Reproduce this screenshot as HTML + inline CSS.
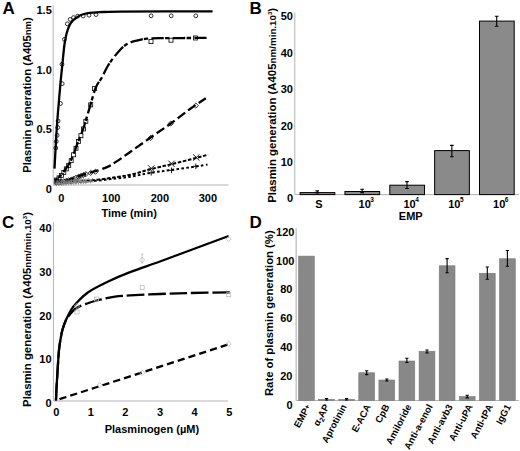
<!DOCTYPE html>
<html><head><meta charset="utf-8"><style>
html,body{margin:0;padding:0;background:#fff;width:520px;height:451px;overflow:hidden}
svg{display:block}
text{font-family:"Liberation Sans",sans-serif;font-weight:bold;fill:#000}
</style></head><body>
<svg width="520" height="451" viewBox="0 0 520 451">
<text x="2.50" y="13.90" text-anchor="start" font-size="17">A</text>
<line x1="53.20" y1="5.30" x2="53.20" y2="185.00" stroke="#b4b4b4" stroke-width="1"/>
<line x1="53.20" y1="185.00" x2="228.50" y2="185.00" stroke="#b4b4b4" stroke-width="1"/>
<text x="51.80" y="14.20" text-anchor="end" font-size="11">1.5</text>
<text x="51.80" y="73.80" text-anchor="end" font-size="11">1.0</text>
<text x="51.80" y="133.40" text-anchor="end" font-size="11">0.5</text>
<text x="51.80" y="193.00" text-anchor="end" font-size="11">0</text>
<text x="61.40" y="201.90" text-anchor="middle" font-size="11">0</text>
<text x="111.30" y="201.90" text-anchor="middle" font-size="11">100</text>
<text x="159.90" y="201.90" text-anchor="middle" font-size="11">200</text>
<text x="207.90" y="201.90" text-anchor="middle" font-size="11">300</text>
<text x="129.10" y="217.30" text-anchor="middle" font-size="11">Time (min)</text>
<text transform="translate(31.00,95.00) rotate(-90)" text-anchor="middle" font-size="11.25">Plasmin generation (A405<tspan font-size="9.5">nm</tspan>)</text>
<path d="M54.50,168.60 C54.67,165.50 55.08,157.27 55.50,150.00 C55.92,142.73 56.48,132.50 57.00,125.00 C57.52,117.50 58.05,111.67 58.60,105.00 C59.15,98.33 59.68,91.67 60.30,85.00 C60.92,78.33 61.62,71.67 62.30,65.00 C62.98,58.33 63.75,50.00 64.40,45.00 C65.05,40.00 65.60,37.67 66.20,35.00 C66.80,32.33 67.37,30.75 68.00,29.00 C68.63,27.25 69.25,25.83 70.00,24.50 C70.75,23.17 71.65,21.97 72.50,21.00 C73.35,20.03 73.78,19.65 75.10,18.70 C76.42,17.75 78.25,16.22 80.40,15.30 C82.55,14.38 84.73,13.72 88.00,13.20 C91.27,12.68 94.67,12.47 100.00,12.20 C105.33,11.93 101.23,11.75 120.00,11.60 C138.77,11.45 197.17,11.35 212.60,11.30" fill="none" stroke="#000" stroke-width="2.3" stroke-linecap="butt" stroke-linejoin="round"/>
<path d="M55.00,180.50 C55.58,180.00 57.27,178.68 58.50,177.50 C59.73,176.32 61.15,174.90 62.40,173.40 C63.65,171.90 64.75,170.32 66.00,168.50 C67.25,166.68 68.57,165.08 69.90,162.50 C71.23,159.92 72.75,156.15 74.00,153.00 C75.25,149.85 75.85,147.68 77.40,143.60 C78.95,139.52 81.28,134.42 83.30,128.50 C85.32,122.58 87.43,114.90 89.50,108.10 C91.57,101.30 93.73,92.63 95.70,87.70 C97.67,82.77 99.58,81.58 101.30,78.50 C103.02,75.42 104.65,71.72 106.00,69.20 C107.35,66.68 108.07,65.42 109.40,63.40 C110.73,61.38 112.27,59.30 114.00,57.10 C115.73,54.90 117.87,52.22 119.80,50.20 C121.73,48.18 123.58,46.38 125.60,45.00 C127.62,43.62 129.32,42.80 131.90,41.90 C134.48,41.00 138.60,40.13 141.10,39.60 C143.60,39.07 143.75,38.93 146.90,38.70 C150.05,38.47 149.98,38.33 160.00,38.20 C170.02,38.07 199.17,37.95 207.00,37.90" fill="none" stroke="#000" stroke-width="2.3" stroke-dasharray="12.3 1.3 4.3 3.4" stroke-dashoffset="9.37" stroke-linecap="butt" stroke-linejoin="round"/>
<path d="M55.00,182.50 C56.33,182.25 60.23,181.58 63.00,181.00 C65.77,180.42 68.63,179.93 71.60,179.00 C74.57,178.07 78.07,176.40 80.80,175.40 C83.53,174.40 85.55,173.70 88.00,173.00 C90.45,172.30 92.25,172.22 95.50,171.20 C98.75,170.18 104.03,168.50 107.50,166.90 C110.97,165.30 112.76,163.92 116.30,161.60 C119.84,159.28 123.03,157.02 128.75,153.00 C134.47,148.98 143.59,142.42 150.60,137.50 C157.61,132.58 164.23,128.25 170.80,123.50 C177.37,118.75 184.17,113.20 190.00,109.00 C195.83,104.80 203.17,100.08 205.80,98.30" fill="none" stroke="#000" stroke-width="2.3" stroke-dasharray="9.2 3.8" stroke-dashoffset="2.70" stroke-linecap="butt" stroke-linejoin="round"/>
<path d="M55.00,183.30 C58.33,183.00 68.33,182.05 75.00,181.50 C81.67,180.95 88.33,180.70 95.00,180.00 C101.67,179.30 108.75,178.25 115.00,177.30 C121.25,176.35 126.67,175.63 132.50,174.30 C138.33,172.97 143.58,170.97 150.00,169.30 C156.42,167.63 163.33,166.18 171.00,164.30 C178.67,162.42 189.82,159.62 196.00,158.00 C202.18,156.38 206.08,155.17 208.10,154.60" fill="none" stroke="#000" stroke-width="2.0" stroke-dasharray="3.6 1.6" stroke-dashoffset="0.00" stroke-linecap="butt" stroke-linejoin="round"/>
<path d="M55.00,184.00 C58.33,183.70 68.33,182.73 75.00,182.20 C81.67,181.67 88.33,181.40 95.00,180.80 C101.67,180.20 108.75,179.33 115.00,178.60 C121.25,177.87 126.67,177.35 132.50,176.40 C138.33,175.45 143.58,173.97 150.00,172.90 C156.42,171.83 163.33,171.07 171.00,170.00 C178.67,168.93 189.92,167.40 196.00,166.50 C202.08,165.60 205.58,164.92 207.50,164.60" fill="none" stroke="#000" stroke-width="2.0" stroke-dasharray="2.6 2.3" stroke-dashoffset="0.00" stroke-linecap="butt" stroke-linejoin="round"/>
<circle cx="151.10" cy="15.80" r="1.90" fill="none" stroke="#000" stroke-width="0.8"/>
<circle cx="171.20" cy="15.80" r="1.90" fill="none" stroke="#000" stroke-width="0.8"/>
<circle cx="195.80" cy="15.80" r="1.90" fill="none" stroke="#000" stroke-width="0.8"/>
<circle cx="96.00" cy="14.60" r="1.90" fill="none" stroke="#000" stroke-width="0.8"/>
<circle cx="89.00" cy="15.20" r="1.90" fill="none" stroke="#000" stroke-width="0.8"/>
<circle cx="83.20" cy="16.00" r="1.90" fill="none" stroke="#000" stroke-width="0.8"/>
<circle cx="77.60" cy="16.20" r="1.90" fill="none" stroke="#000" stroke-width="0.8"/>
<circle cx="73.50" cy="17.60" r="1.90" fill="none" stroke="#000" stroke-width="0.8"/>
<circle cx="70.20" cy="19.40" r="1.90" fill="none" stroke="#000" stroke-width="0.8"/>
<circle cx="67.30" cy="23.80" r="1.90" fill="none" stroke="#000" stroke-width="0.8"/>
<circle cx="64.40" cy="39.40" r="1.90" fill="none" stroke="#000" stroke-width="0.8"/>
<circle cx="62.00" cy="64.30" r="1.90" fill="none" stroke="#000" stroke-width="0.8"/>
<circle cx="62.20" cy="83.70" r="1.90" fill="none" stroke="#000" stroke-width="0.8"/>
<circle cx="60.50" cy="103.50" r="1.90" fill="none" stroke="#000" stroke-width="0.8"/>
<circle cx="58.10" cy="121.00" r="1.90" fill="none" stroke="#000" stroke-width="0.8"/>
<circle cx="57.70" cy="127.50" r="1.90" fill="none" stroke="#000" stroke-width="0.8"/>
<circle cx="57.10" cy="135.30" r="1.90" fill="none" stroke="#000" stroke-width="0.8"/>
<circle cx="56.30" cy="141.50" r="1.90" fill="none" stroke="#000" stroke-width="0.8"/>
<circle cx="55.80" cy="148.00" r="1.90" fill="none" stroke="#000" stroke-width="0.8"/>
<rect x="149.00" y="39.60" width="4.00" height="4.00" fill="none" stroke="#000" stroke-width="0.8"/>
<rect x="169.00" y="38.20" width="4.00" height="4.00" fill="none" stroke="#000" stroke-width="0.8"/>
<rect x="193.40" y="36.00" width="4.00" height="4.00" fill="none" stroke="#000" stroke-width="0.8"/>
<rect x="92.40" y="86.60" width="4.00" height="4.00" fill="none" stroke="#000" stroke-width="0.8"/>
<rect x="54.50" y="178.06" width="4.00" height="4.00" fill="none" stroke="#000" stroke-width="0.8"/>
<rect x="57.00" y="175.83" width="4.00" height="4.00" fill="none" stroke="#000" stroke-width="0.8"/>
<rect x="59.40" y="173.35" width="4.00" height="4.00" fill="none" stroke="#000" stroke-width="0.8"/>
<rect x="61.80" y="170.40" width="4.00" height="4.00" fill="none" stroke="#000" stroke-width="0.8"/>
<rect x="64.30" y="166.87" width="4.00" height="4.00" fill="none" stroke="#000" stroke-width="0.8"/>
<rect x="66.70" y="163.39" width="4.00" height="4.00" fill="none" stroke="#000" stroke-width="0.8"/>
<rect x="69.20" y="158.61" width="4.00" height="4.00" fill="none" stroke="#000" stroke-width="0.8"/>
<rect x="71.60" y="152.76" width="4.00" height="4.00" fill="none" stroke="#000" stroke-width="0.8"/>
<rect x="74.00" y="146.29" width="4.00" height="4.00" fill="none" stroke="#000" stroke-width="0.8"/>
<rect x="76.50" y="139.56" width="4.00" height="4.00" fill="none" stroke="#000" stroke-width="0.8"/>
<rect x="78.90" y="133.68" width="4.00" height="4.00" fill="none" stroke="#000" stroke-width="0.8"/>
<rect x="81.40" y="126.94" width="4.00" height="4.00" fill="none" stroke="#000" stroke-width="0.8"/>
<rect x="83.80" y="119.31" width="4.00" height="4.00" fill="none" stroke="#000" stroke-width="0.8"/>
<rect x="88.70" y="102.86" width="4.00" height="4.00" fill="none" stroke="#000" stroke-width="0.8"/>
<path d="M150.60,135.40L153.20,138.00L150.60,140.60L148.00,138.00Z" fill="none" stroke="#000" stroke-width="0.8"/>
<path d="M170.80,120.90L173.40,123.50L170.80,126.10L168.20,123.50Z" fill="none" stroke="#000" stroke-width="0.8"/>
<path d="M195.80,103.00L198.40,105.60L195.80,108.20L193.20,105.60Z" fill="none" stroke="#000" stroke-width="0.8"/>
<path d="M56.50,180.13L59.10,182.73L56.50,185.33L53.90,182.73Z" fill="none" stroke="#000" stroke-width="0.8"/>
<path d="M59.00,179.68L61.60,182.28L59.00,184.88L56.40,182.28Z" fill="none" stroke="#000" stroke-width="0.8"/>
<path d="M61.40,179.22L64.00,181.82L61.40,184.42L58.80,181.82Z" fill="none" stroke="#000" stroke-width="0.8"/>
<path d="M63.80,178.73L66.40,181.33L63.80,183.93L61.20,181.33Z" fill="none" stroke="#000" stroke-width="0.8"/>
<path d="M66.30,178.23L68.90,180.83L66.30,183.43L63.70,180.83Z" fill="none" stroke="#000" stroke-width="0.8"/>
<path d="M68.70,177.70L71.30,180.30L68.70,182.90L66.10,180.30Z" fill="none" stroke="#000" stroke-width="0.8"/>
<path d="M71.20,177.04L73.80,179.64L71.20,182.24L68.60,179.64Z" fill="none" stroke="#000" stroke-width="0.8"/>
<path d="M73.60,176.19L76.20,178.79L73.60,181.39L71.00,178.79Z" fill="none" stroke="#000" stroke-width="0.8"/>
<path d="M76.00,175.24L78.60,177.84L76.00,180.44L73.40,177.84Z" fill="none" stroke="#000" stroke-width="0.8"/>
<path d="M78.50,174.19L81.10,176.79L78.50,179.39L75.90,176.79Z" fill="none" stroke="#000" stroke-width="0.8"/>
<path d="M80.90,173.27L83.50,175.87L80.90,178.47L78.30,175.87Z" fill="none" stroke="#000" stroke-width="0.8"/>
<path d="M83.40,172.37L86.00,174.97L83.40,177.57L80.80,174.97Z" fill="none" stroke="#000" stroke-width="0.8"/>
<path d="M85.80,171.56L88.40,174.16L85.80,176.76L83.20,174.16Z" fill="none" stroke="#000" stroke-width="0.8"/>
<path d="M90.70,170.27L93.30,172.87L90.70,175.47L88.10,172.87Z" fill="none" stroke="#000" stroke-width="0.8"/>
<path d="M95.50,169.10L98.10,171.70L95.50,174.30L92.90,171.70Z" fill="none" stroke="#000" stroke-width="0.8"/>
<path d="M148.00,165.30L154.40,171.70M148.00,171.70L154.40,165.30" stroke="#000" stroke-width="0.9"/>
<path d="M168.30,160.60L174.70,167.00M168.30,167.00L174.70,160.60" stroke="#000" stroke-width="0.9"/>
<path d="M193.10,154.30L199.50,160.70M193.10,160.70L199.50,154.30" stroke="#000" stroke-width="0.9"/>
<path d="M54.10,180.77L58.90,185.57M54.10,185.57L58.90,180.77" stroke="#777" stroke-width="0.8"/>
<path d="M56.60,180.54L61.40,185.34M56.60,185.34L61.40,180.54" stroke="#777" stroke-width="0.8"/>
<path d="M59.00,180.31L63.80,185.11M59.00,185.11L63.80,180.31" stroke="#777" stroke-width="0.8"/>
<path d="M61.40,180.09L66.20,184.89M61.40,184.89L66.20,180.09" stroke="#777" stroke-width="0.8"/>
<path d="M63.90,179.86L68.70,184.66M63.90,184.66L68.70,179.86" stroke="#777" stroke-width="0.8"/>
<path d="M66.30,179.65L71.10,184.45M66.30,184.45L71.10,179.65" stroke="#777" stroke-width="0.8"/>
<path d="M68.80,179.43L73.60,184.23M68.80,184.23L73.60,179.43" stroke="#777" stroke-width="0.8"/>
<path d="M71.20,179.22L76.00,184.02M71.20,184.02L76.00,179.22" stroke="#777" stroke-width="0.8"/>
<path d="M73.60,179.02L78.40,183.82M73.60,183.82L78.40,179.02" stroke="#777" stroke-width="0.8"/>
<path d="M76.10,178.84L80.90,183.64M76.10,183.64L80.90,178.84" stroke="#777" stroke-width="0.8"/>
<path d="M78.50,178.67L83.30,183.47M78.50,183.47L83.30,178.67" stroke="#777" stroke-width="0.8"/>
<path d="M81.00,178.51L85.80,183.31M81.00,183.31L85.80,178.51" stroke="#777" stroke-width="0.8"/>
<path d="M83.40,178.35L88.20,183.15M83.40,183.15L88.20,178.35" stroke="#777" stroke-width="0.8"/>
<path d="M88.30,177.99L93.10,182.79M88.30,182.79L93.10,177.99" stroke="#777" stroke-width="0.8"/>
<path d="M148.40,172.80L154.00,172.80M151.20,170.00L151.20,175.60" stroke="#000" stroke-width="0.9"/>
<path d="M168.70,170.30L174.30,170.30M171.50,167.50L171.50,173.10" stroke="#000" stroke-width="0.9"/>
<path d="M193.00,166.30L198.60,166.30M195.80,163.50L195.80,169.10" stroke="#000" stroke-width="0.9"/>
<path d="M54.10,183.87L58.90,183.87M56.50,181.47L56.50,186.27" stroke="#888" stroke-width="0.8"/>
<path d="M56.60,183.63L61.40,183.63M59.00,181.23L59.00,186.03" stroke="#888" stroke-width="0.8"/>
<path d="M59.00,183.41L63.80,183.41M61.40,181.01L61.40,185.81" stroke="#888" stroke-width="0.8"/>
<path d="M61.40,183.19L66.20,183.19M63.80,180.79L63.80,185.59" stroke="#888" stroke-width="0.8"/>
<path d="M63.90,182.96L68.70,182.96M66.30,180.56L66.30,185.36" stroke="#888" stroke-width="0.8"/>
<path d="M66.30,182.75L71.10,182.75M68.70,180.35L68.70,185.15" stroke="#888" stroke-width="0.8"/>
<path d="M68.80,182.52L73.60,182.52M71.20,180.12L71.20,184.92" stroke="#888" stroke-width="0.8"/>
<path d="M71.20,182.32L76.00,182.32M73.60,179.92L73.60,184.72" stroke="#888" stroke-width="0.8"/>
<path d="M73.60,182.12L78.40,182.12M76.00,179.72L76.00,184.52" stroke="#888" stroke-width="0.8"/>
<path d="M76.10,181.95L80.90,181.95M78.50,179.55L78.50,184.35" stroke="#888" stroke-width="0.8"/>
<path d="M78.50,181.78L83.30,181.78M80.90,179.38L80.90,184.18" stroke="#888" stroke-width="0.8"/>
<path d="M81.00,181.62L85.80,181.62M83.40,179.22L83.40,184.02" stroke="#888" stroke-width="0.8"/>
<path d="M83.40,181.47L88.20,181.47M85.80,179.07L85.80,183.87" stroke="#888" stroke-width="0.8"/>
<path d="M88.30,181.14L93.10,181.14M90.70,178.74L90.70,183.54" stroke="#888" stroke-width="0.8"/>
<text x="249.50" y="14.30" text-anchor="start" font-size="17">B</text>
<line x1="294.80" y1="12.40" x2="294.80" y2="194.60" stroke="#b4b4b4" stroke-width="1"/>
<line x1="294.80" y1="194.60" x2="519.00" y2="194.60" stroke="#b4b4b4" stroke-width="1"/>
<text x="293.00" y="202.20" text-anchor="end" font-size="11">0</text>
<text x="293.00" y="165.85" text-anchor="end" font-size="11">10</text>
<text x="293.00" y="129.50" text-anchor="end" font-size="11">20</text>
<text x="293.00" y="93.15" text-anchor="end" font-size="11">30</text>
<text x="293.00" y="56.80" text-anchor="end" font-size="11">40</text>
<text x="293.00" y="20.45" text-anchor="end" font-size="11">50</text>
<text transform="translate(275.60,105.30) rotate(-90)" text-anchor="middle" font-size="11.4">Plasmin generation (A405<tspan font-size="9.8">nm/min.10</tspan><tspan font-size="6" dy="-4">3</tspan><tspan dy="4">)</tspan></text>
<rect x="300.10" y="192.60" width="34.7" height="2.00" fill="#8a8a8a" stroke="#000" stroke-width="1"/>
<path d="M317.30,190.90V193.00M315.50,190.90H319.10M315.50,193.00H319.10" stroke="#000" stroke-width="1.1" fill="none"/>
<rect x="344.95" y="191.50" width="34.7" height="3.10" fill="#8a8a8a" stroke="#000" stroke-width="1"/>
<path d="M362.15,189.20V192.60M360.35,189.20H363.95M360.35,192.60H363.95" stroke="#000" stroke-width="1.1" fill="none"/>
<rect x="389.80" y="185.20" width="34.7" height="9.40" fill="#8a8a8a" stroke="#000" stroke-width="1"/>
<path d="M407.00,181.60V188.50M405.20,181.60H408.80M405.20,188.50H408.80" stroke="#000" stroke-width="1.1" fill="none"/>
<rect x="434.65" y="150.60" width="34.7" height="44.00" fill="#8a8a8a" stroke="#000" stroke-width="1"/>
<path d="M451.85,145.40V156.70M450.05,145.40H453.65M450.05,156.70H453.65" stroke="#000" stroke-width="1.1" fill="none"/>
<rect x="479.50" y="21.10" width="34.7" height="173.50" fill="#8a8a8a" stroke="#000" stroke-width="1"/>
<path d="M496.70,16.20V26.20M494.90,16.20H498.50M494.90,26.20H498.50" stroke="#000" stroke-width="1.1" fill="none"/>
<text x="318.90" y="207.50" text-anchor="middle" font-size="11">S</text>
<text x="358.55" y="207.5" font-size="11">10<tspan font-size="6.5" dx="-0.5" dy="-6">3</tspan></text>
<text x="403.40" y="207.5" font-size="11">10<tspan font-size="6.5" dx="-0.5" dy="-6">4</tspan></text>
<text x="448.25" y="207.5" font-size="11">10<tspan font-size="6.5" dx="-0.5" dy="-6">5</tspan></text>
<text x="493.10" y="207.5" font-size="11">10<tspan font-size="6.5" dx="-0.5" dy="-6">6</tspan></text>
<text x="410.75" y="219.50" text-anchor="middle" font-size="11">EMP</text>
<text x="2.00" y="227.60" text-anchor="start" font-size="17">C</text>
<line x1="53.40" y1="222.00" x2="53.40" y2="401.00" stroke="#b4b4b4" stroke-width="1"/>
<line x1="53.40" y1="401.00" x2="228.00" y2="401.00" stroke="#b4b4b4" stroke-width="1"/>
<text x="51.60" y="407.20" text-anchor="end" font-size="11">0</text>
<text x="51.60" y="363.40" text-anchor="end" font-size="11">10</text>
<text x="51.60" y="319.60" text-anchor="end" font-size="11">20</text>
<text x="51.60" y="275.80" text-anchor="end" font-size="11">30</text>
<text x="51.60" y="232.00" text-anchor="end" font-size="11">40</text>
<text x="56.20" y="416.40" text-anchor="middle" font-size="11">0</text>
<text x="90.80" y="416.40" text-anchor="middle" font-size="11">1</text>
<text x="125.40" y="416.40" text-anchor="middle" font-size="11">2</text>
<text x="160.00" y="416.40" text-anchor="middle" font-size="11">3</text>
<text x="194.60" y="416.40" text-anchor="middle" font-size="11">4</text>
<text x="229.20" y="416.40" text-anchor="middle" font-size="11">5</text>
<text x="151.90" y="433.20" text-anchor="middle" font-size="11">Plasminogen (&#181;M)</text>
<text transform="translate(31.40,309.50) rotate(-90)" text-anchor="middle" font-size="11.4">Plasmin generation (A405<tspan font-size="9.8">nm/min.10</tspan><tspan font-size="6" dy="-4">3</tspan><tspan dy="4">)</tspan></text>
<path d="M56.00,400.50 C56.07,398.75 56.23,393.42 56.40,390.00 C56.57,386.58 56.80,383.33 57.00,380.00 C57.20,376.67 57.27,375.00 57.60,370.00 C57.93,365.00 58.53,355.00 59.00,350.00 C59.47,345.00 59.83,343.33 60.40,340.00 C60.97,336.67 61.47,333.33 62.40,330.00 C63.33,326.67 64.57,323.33 66.00,320.00 C67.43,316.67 69.25,312.83 71.00,310.00 C72.75,307.17 73.63,305.97 76.50,303.00 C79.37,300.03 82.92,295.78 88.20,292.20 C93.48,288.62 101.23,284.85 108.20,281.50 C115.17,278.15 121.37,275.43 130.00,272.10 C138.63,268.77 149.17,265.43 160.00,261.50 C170.83,257.57 183.55,252.75 195.00,248.50 C206.45,244.25 223.08,238.08 228.70,236.00" fill="none" stroke="#000" stroke-width="2.3" stroke-linecap="butt" stroke-linejoin="round"/>
<path d="M56.00,400.50 C56.07,398.75 56.23,393.42 56.40,390.00 C56.57,386.58 56.80,383.33 57.00,380.00 C57.20,376.67 57.27,375.00 57.60,370.00 C57.93,365.00 58.53,355.00 59.00,350.00 C59.47,345.00 59.83,343.33 60.40,340.00 C60.97,336.67 61.47,333.33 62.40,330.00 C63.33,326.67 64.23,323.17 66.00,320.00 C67.77,316.83 70.83,313.23 73.00,311.00 C75.17,308.77 76.17,308.02 79.00,306.60 C81.83,305.18 86.47,303.65 90.00,302.50 C93.53,301.35 96.03,300.68 100.20,299.70 C104.37,298.72 110.03,297.32 115.00,296.60 C119.97,295.88 122.50,295.83 130.00,295.40 C137.50,294.97 150.00,294.40 160.00,294.00 C170.00,293.60 178.37,293.28 190.00,293.00 C201.63,292.72 223.17,292.42 229.80,292.30" fill="none" stroke="#000" stroke-width="2.3" stroke-dasharray="17.6 3.8" stroke-dashoffset="0.03" stroke-linecap="butt" stroke-linejoin="round"/>
<path d="M59.5,399.2 L229.8,344.0" fill="none" stroke="#000" stroke-width="2.3" stroke-dasharray="7.2 4.1" stroke-dashoffset="0.00" stroke-linecap="butt" stroke-linejoin="round"/>
<path d="M142.20,257.30L144.80,259.90L142.20,262.50L139.60,259.90Z" fill="none" stroke="#bbbbbb" stroke-width="0.8"/>
<path d="M142.20,254.00V263.00M141.00,254.00H143.40M141.00,263.00H143.40" stroke="#bbbbbb" stroke-width="0.8" fill="none"/>
<rect x="140.20" y="285.60" width="4.00" height="4.00" fill="none" stroke="#bbbbbb" stroke-width="0.8"/>
<rect x="226.70" y="292.70" width="4.00" height="4.00" fill="none" stroke="#bbbbbb" stroke-width="0.8"/>
<path d="M228.70,236.30L231.30,238.90L228.70,241.50L226.10,238.90Z" fill="none" stroke="#bbbbbb" stroke-width="0.8"/>
<path d="M228.70,341.10L231.30,343.70L228.70,346.30L226.10,343.70Z" fill="none" stroke="#bbbbbb" stroke-width="0.8"/>
<rect x="75.00" y="310.00" width="4.00" height="4.00" fill="none" stroke="#bbbbbb" stroke-width="0.8"/>
<rect x="94.50" y="297.00" width="4.00" height="4.00" fill="none" stroke="#bbbbbb" stroke-width="0.8"/>
<path d="M77.00,303.40L79.60,306.00L77.00,308.60L74.40,306.00Z" fill="none" stroke="#bbbbbb" stroke-width="0.8"/>
<path d="M99.60,382.60L102.20,385.20L99.60,387.80L97.00,385.20Z" fill="none" stroke="#bbbbbb" stroke-width="0.8"/>
<path d="M142.20,370.30L144.80,372.90L142.20,375.50L139.60,372.90Z" fill="none" stroke="#bbbbbb" stroke-width="0.8"/>
<text x="249.50" y="228.30" text-anchor="start" font-size="17">D</text>
<line x1="296.20" y1="228.30" x2="296.20" y2="400.50" stroke="#c8c8c8" stroke-width="1.6"/>
<line x1="296.30" y1="400.50" x2="519.00" y2="400.50" stroke="#b4b4b4" stroke-width="1"/>
<text x="292.50" y="408.50" text-anchor="end" font-size="11">0</text>
<text x="292.50" y="379.70" text-anchor="end" font-size="11">20</text>
<text x="292.50" y="350.90" text-anchor="end" font-size="11">40</text>
<text x="292.50" y="322.10" text-anchor="end" font-size="11">60</text>
<text x="292.50" y="293.30" text-anchor="end" font-size="11">80</text>
<text x="294.40" y="264.50" text-anchor="end" font-size="11">100</text>
<text x="294.40" y="235.70" text-anchor="end" font-size="11">120</text>
<text transform="translate(273.20,313.20) rotate(-90)" text-anchor="middle" font-size="11.3">Rate of plasmin generation (%)</text>
<rect x="298.50" y="256.10" width="15.8" height="144.40" fill="#888888" stroke="#7a7a7a" stroke-width="0.6"/>
<text transform="translate(311.10,406.50) rotate(-62)" text-anchor="end" font-size="9.5">EMP<tspan font-size="7.5" dy="-1">+</tspan></text>
<rect x="318.60" y="399.30" width="15.8" height="1.20" fill="#888888" stroke="#7a7a7a" stroke-width="0.6"/>
<path d="M326.50,398.50V400.00M324.90,398.50H328.10M324.90,400.00H328.10" stroke="#000" stroke-width="1.1" fill="none"/>
<text transform="translate(329.40,406.50) rotate(-62)" text-anchor="end" font-size="9.5">&#945;<tspan font-size="7" dy="2">2</tspan><tspan dy="-2">AP</tspan></text>
<rect x="338.70" y="399.30" width="15.8" height="1.20" fill="#888888" stroke="#7a7a7a" stroke-width="0.6"/>
<path d="M346.60,398.50V400.00M345.00,398.50H348.20M345.00,400.00H348.20" stroke="#000" stroke-width="1.1" fill="none"/>
<text transform="translate(347.00,406.50) rotate(-62)" text-anchor="end" font-size="9.5">Aprotinin</text>
<rect x="358.80" y="372.75" width="15.8" height="27.75" fill="#888888" stroke="#7a7a7a" stroke-width="0.6"/>
<path d="M366.70,370.80V374.60M365.10,370.80H368.30M365.10,374.60H368.30" stroke="#000" stroke-width="1.1" fill="none"/>
<text transform="translate(371.10,406.50) rotate(-62)" text-anchor="end" font-size="9.5">E-ACA</text>
<rect x="378.90" y="380.00" width="15.8" height="20.50" fill="#888888" stroke="#7a7a7a" stroke-width="0.6"/>
<path d="M386.80,379.00V381.00M385.20,379.00H388.40M385.20,381.00H388.40" stroke="#000" stroke-width="1.1" fill="none"/>
<text transform="translate(389.70,406.50) rotate(-62)" text-anchor="end" font-size="9.5">CpB</text>
<rect x="399.00" y="361.00" width="15.8" height="39.50" fill="#888888" stroke="#7a7a7a" stroke-width="0.6"/>
<path d="M406.90,358.25V362.50M405.30,358.25H408.50M405.30,362.50H408.50" stroke="#000" stroke-width="1.1" fill="none"/>
<text transform="translate(411.80,406.50) rotate(-62)" text-anchor="end" font-size="9.5">Amiloride</text>
<rect x="419.10" y="351.25" width="15.8" height="49.25" fill="#888888" stroke="#7a7a7a" stroke-width="0.6"/>
<path d="M427.00,350.00V353.00M425.40,350.00H428.60M425.40,353.00H428.60" stroke="#000" stroke-width="1.1" fill="none"/>
<text transform="translate(432.90,406.50) rotate(-62)" text-anchor="end" font-size="9.5">Anti-a-enol</text>
<rect x="439.20" y="265.75" width="15.8" height="134.75" fill="#888888" stroke="#7a7a7a" stroke-width="0.6"/>
<path d="M447.10,258.60V272.70M445.50,258.60H448.70M445.50,272.70H448.70" stroke="#000" stroke-width="1.1" fill="none"/>
<text transform="translate(453.00,406.50) rotate(-62)" text-anchor="end" font-size="9.5">Anti-avb3</text>
<rect x="459.30" y="396.50" width="15.8" height="4.00" fill="#888888" stroke="#7a7a7a" stroke-width="0.6"/>
<path d="M467.20,395.20V397.90M465.60,395.20H468.80M465.60,397.90H468.80" stroke="#000" stroke-width="1.1" fill="none"/>
<text transform="translate(473.10,406.50) rotate(-62)" text-anchor="end" font-size="9.5">Anti-uPA</text>
<rect x="479.40" y="273.25" width="15.8" height="127.25" fill="#888888" stroke="#7a7a7a" stroke-width="0.6"/>
<path d="M487.30,267.00V279.25M485.70,267.00H488.90M485.70,279.25H488.90" stroke="#000" stroke-width="1.1" fill="none"/>
<text transform="translate(493.20,406.50) rotate(-62)" text-anchor="end" font-size="9.5">Anti-tPA</text>
<rect x="499.50" y="258.75" width="15.8" height="141.75" fill="#888888" stroke="#7a7a7a" stroke-width="0.6"/>
<path d="M507.40,250.50V266.25M505.80,250.50H509.00M505.80,266.25H509.00" stroke="#000" stroke-width="1.1" fill="none"/>
<text transform="translate(511.30,406.50) rotate(-62)" text-anchor="end" font-size="9.5">IgG1</text>
</svg>
</body></html>
